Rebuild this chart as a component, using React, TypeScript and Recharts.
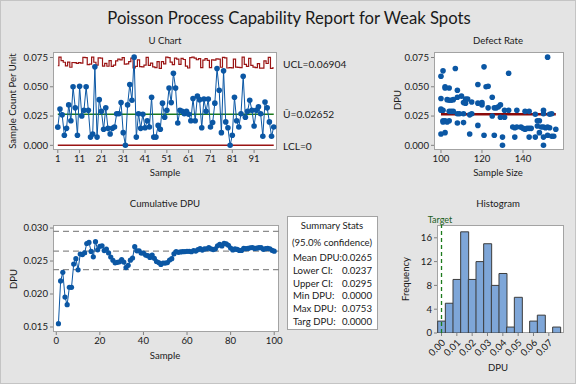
import React from 'react';
import {
  ComposedChart,
  Line,
  XAxis,
  YAxis,
  ReferenceLine,
  ScatterChart,
  Scatter,
  Bar,
} from 'recharts';

// ---------------- DATA ----------------
const dpuValues: number[] = [
  0.0155, 0.031, 0.026, 0.0086, 0.0145, 0.0345, 0.021, 0.05, 0.032, 0.0086,
  0.0505, 0.025, 0.03, 0.05, 0.03, 0.007, 0.0097, 0.067, 0.007, 0.039,
  0.029, 0.0137, 0.032, 0.0145, 0.0097, 0.0145, 0.0157, 0.027, 0.027, 0.0365,
  0.0108, 0.0, 0.0345, 0.052, 0.0385, 0.0753, 0.007, 0.027, 0.0145, 0.0265,
  0.015, 0.021, 0.0157, 0.041, 0.007, 0.007, 0.017, 0.0137, 0.036, 0.024,
  0.03, 0.049, 0.0365, 0.0616, 0.049, 0.019, 0.03, 0.029, 0.027, 0.029,
  0.0265, 0.021, 0.04, 0.021, 0.042, 0.039, 0.015, 0.0395, 0.029, 0.0395,
  0.0157, 0.0194, 0.036, 0.0656, 0.047, 0.0108, 0.0636, 0.02, 0.015, 0.0,
  0.0086, 0.041, 0.021, 0.0157, 0.027, 0.059, 0.024, 0.029, 0.0385, 0.03,
  0.0165, 0.03, 0.033, 0.027, 0.0077, 0.037, 0.032, 0.02, 0.0077, 0.0157,
];

const sampleSizes: number[] = [
  139, 100, 114, 121, 140, 120, 148, 122, 123, 126,
  123, 125, 101, 102, 133, 130, 100, 121, 136, 103,
  104, 141, 126, 142, 114, 143, 135, 115, 108, 111,
  102, 130, 129, 118, 104, 152, 143, 111, 144, 146,
  136, 101, 137, 125, 146, 150, 118, 156, 118, 129,
  100, 102, 120, 133, 104, 108, 131, 105, 109, 141,
  153, 102, 100, 104, 110, 106, 151, 112, 106, 113,
  150, 111, 112, 107, 108, 148, 101, 103, 153, 150,
  152, 108, 147, 149, 150, 100, 131, 143, 105, 137,
  147, 150, 128, 154, 154, 115, 127, 101, 155, 152,
];

const uBar = 0.02652;
const uclText = 'UCL=0.06904';
const uBarText = '\u016A=0.02652';
const lclText = 'LCL=0';

const uXTicks = [1, 11, 21, 31, 41, 51, 61, 71, 81, 91];
const uYTicks = [0, 0.025, 0.05, 0.075];
const sizeTicks = [100, 120, 140];
const cumXTicks = [0, 20, 40, 60, 80, 100];
const cumYTicks = [0.015, 0.02, 0.025, 0.03];
const ciLines = [0.0237, 0.0265, 0.0295];

const histMids = [0, 0.005, 0.01, 0.015, 0.02, 0.025, 0.03, 0.035, 0.04, 0.045, 0.05, 0.055, 0.06, 0.065, 0.07, 0.075];
const histCounts = [2, 5, 9, 17, 9, 12, 15, 8, 10, 1, 6, 0, 2, 3, 0, 1];
const histXTicks = [0, 0.01, 0.02, 0.03, 0.04, 0.05, 0.06, 0.07];
const histYTicks = [0, 4, 8, 12, 16];
const targetDpu = 0;

const statLabels = ['Mean DPU:', 'Lower CI:', 'Upper CI:', 'Min DPU:', 'Max DPU:', 'Targ DPU:'];
const statValues = ['0.0265', '0.0237', '0.0295', '0.0000', '0.0753', '0.0000'];

// ---------------- DERIVED ----------------
const uRows = dpuValues.map((u, i) => ({
  sample: i + 1,
  u,
  ucl: uBar + 3 * Math.sqrt(uBar / sampleSizes[i]),
}));
const scatterRows = dpuValues.map((u, i) => ({ n: sampleSizes[i], u }));
const minN = Math.min(...sampleSizes);
const maxN = Math.max(...sampleSizes);
let cd = 0;
let cn = 0;
const cumRows = dpuValues.map((u, i) => {
  cd += u * sampleSizes[i];
  cn += sampleSizes[i];
  return { sample: i + 1, cum: cd / cn };
});
const histRows = histMids.map((m, i) => ({ mid: m, count: histCounts[i] }));

// ---------------- STYLE ----------------
const FONT = 'Lato, "Noto Sans", sans-serif';
const BLUE = '#0b57a4';
const RED = '#9a1414';
const GREEN = '#1c7a1c';
const TXT = '#1a1a1a';
const FS = 9.6;
const M = { top: 6, right: 6, left: 0, bottom: 0 };

type Rect = { x1: number; y1: number; x2: number; y2: number };

const frame = (r: Rect): React.CSSProperties => ({
  position: 'absolute',
  left: r.x1,
  top: r.y1,
  width: r.x2 - r.x1,
  height: r.y2 - r.y1,
  background: '#fff',
  border: '1px solid #a3a3a3',
  boxSizing: 'border-box',
});

const box = (r: Rect, yw: number, xh: number) => ({
  left: r.x1 - yw,
  top: r.y1 - M.top,
  width: r.x2 - r.x1 + yw + M.right,
  height: r.y2 - r.y1 + M.top + xh,
});

const T = ({
  x,
  y,
  children,
  size = FS,
  anchor = 'middle',
  rotate = false,
  color = TXT,
}: {
  x: number;
  y: number;
  children: React.ReactNode;
  size?: number;
  anchor?: 'start' | 'middle' | 'end';
  rotate?: boolean;
  color?: string;
}) => {
  const tx = anchor === 'middle' ? '-50%' : anchor === 'end' ? '-100%' : '0';
  return (
    <div
      style={{
        position: 'absolute',
        left: x,
        top: y,
        transform: `translate(${tx}, -50%)${rotate ? ' rotate(-90deg)' : ''}`,
        fontSize: size,
        whiteSpace: 'nowrap',
        color,
        lineHeight: 1,
      }}
    >
      {children}
    </div>
  );
};

const tickStyle = { fontSize: FS, fill: TXT };
const tickLine = { stroke: '#808080' };

const RotTick = (props: any) => {
  const { x, y, payload } = props;
  const ax = x + 2;
  const ay = y + 3;
  return (
    <text x={ax} y={ay} transform={`rotate(-45 ${ax} ${ay})`} textAnchor="end" fontSize={FS} fill={TXT} dy="0.35em">
      {Number(payload.value).toFixed(2)}
    </text>
  );
};

const Dot = (props: any) => {
  const { cx, cy } = props;
  if (cx == null || cy == null) return null;
  return <circle cx={cx} cy={cy} r={2.8} fill={BLUE} />;
};

const uRect: Rect = { x1: 52, y1: 51, x2: 276, y2: 149 };
const sRect: Rect = { x1: 433, y1: 51, x2: 563, y2: 149 };
const cRect: Rect = { x1: 52, y1: 224, x2: 278, y2: 331 };
const hRect: Rect = { x1: 436, y1: 224, x2: 563, y2: 332 };

export default function App() {
  const ub = box(uRect, 52, 31);
  const sb = box(sRect, 40, 31);
  const cb = box(cRect, 52, 30);
  const hb = box(hRect, 30, 42);
  return (
    <div
      style={{
        position: 'fixed',
        left: 0,
        top: 0,
        width: 576,
        height: 384,
        background: '#e4e4e4',
        border: '1px solid #c4c4c4',
        boxSizing: 'border-box',
        fontFamily: FONT,
        color: TXT,
        overflow: 'hidden',
      }}
    >
      <T x={288} y={17} size={16.7}>Poisson Process Capability Report for Weak Spots</T>

      {/* U chart */}
      <T x={164} y={40}>U Chart</T>
      <div style={frame(uRect)} />
      <div style={{ position: 'absolute', left: ub.left, top: ub.top }}>
        <ComposedChart width={ub.width} height={ub.height} data={uRows} margin={M}>
          <XAxis dataKey="sample" type="number" domain={[-1.2, 101.5]} allowDataOverflow ticks={uXTicks} interval={0}
            height={31} tickSize={3} tickMargin={2} tick={tickStyle} tickLine={tickLine} axisLine={false} />
          <YAxis type="number" domain={[-0.004, 0.0797]} allowDataOverflow ticks={uYTicks} interval={0}
            tickFormatter={(v: number) => v.toFixed(3)} width={52} tickSize={3} tickMargin={2} tick={tickStyle} tickLine={tickLine} axisLine={false} />
          <ReferenceLine segment={[{ x: 1, y: uBar }, { x: 100, y: uBar }]} stroke={GREEN} strokeWidth={1.5} />
          <ReferenceLine segment={[{ x: 1, y: 0 }, { x: 100, y: 0 }]} stroke={RED} strokeWidth={1.5} />
          <Line dataKey="ucl" type="step" stroke={RED} strokeWidth={1.2} dot={false} isAnimationActive={false} />
          <Line dataKey="u" type="linear" stroke={BLUE} strokeWidth={1} dot={{ r: 2.8, fill: BLUE, stroke: BLUE, strokeWidth: 0 }} isAnimationActive={false} />
        </ComposedChart>
      </div>
      <T x={282} y={63} size={10.2} anchor="start">{uclText}</T>
      <T x={282} y={113} size={10.2} anchor="start">{uBarText}</T>
      <T x={282} y={145} size={10.2} anchor="start">{lclText}</T>
      <T x={12} y={100} rotate>Sample Count Per Unit</T>
      <T x={164} y={172}>Sample</T>

      {/* Defect rate */}
      <T x={497} y={40}>Defect Rate</T>
      <div style={frame(sRect)} />
      <div style={{ position: 'absolute', left: sb.left, top: sb.top }}>
        <ScatterChart width={sb.width} height={sb.height} margin={M}>
          <XAxis dataKey="n" type="number" domain={[96.6, 160]} allowDataOverflow ticks={sizeTicks} interval={0}
            height={31} tickSize={3} tickMargin={2} tick={tickStyle} tickLine={tickLine} axisLine={false} />
          <YAxis dataKey="u" type="number" domain={[-0.004, 0.0797]} allowDataOverflow ticks={uYTicks} interval={0}
            tickFormatter={(v: number) => v.toFixed(3)} width={40} tickSize={3} tickMargin={2} tick={tickStyle} tickLine={tickLine} axisLine={false} />
          <Scatter data={scatterRows} fill={BLUE} shape={<Dot />} isAnimationActive={false} />
          <ReferenceLine segment={[{ x: minN, y: uBar }, { x: maxN, y: uBar }]} stroke="#8a0a0a" strokeWidth={2.5} />
        </ScatterChart>
      </div>
      <T x={397} y={99} rotate>DPU</T>
      <T x={497} y={172}>Sample Size</T>

      {/* Cumulative */}
      <T x={164} y={203}>Cumulative DPU</T>
      <div style={frame(cRect)} />
      <div style={{ position: 'absolute', left: cb.left, top: cb.top }}>
        <ComposedChart width={cb.width} height={cb.height} data={cumRows} margin={M}>
          <XAxis dataKey="sample" type="number" domain={[-1.5, 102.2]} allowDataOverflow ticks={cumXTicks} interval={0}
            height={30} tickSize={3} tickMargin={2} tick={tickStyle} tickLine={tickLine} axisLine={false} />
          <YAxis type="number" domain={[0.01424, 0.03046]} allowDataOverflow ticks={cumYTicks} interval={0}
            tickFormatter={(v: number) => v.toFixed(3)} width={52} tickSize={3} tickMargin={2} tick={tickStyle} tickLine={tickLine} axisLine={false} />
          {ciLines.map((v) => (
            <ReferenceLine key={v} y={v} stroke="#8c8c8c" strokeDasharray="6 4" strokeWidth={1.2} />
          ))}
          <Line dataKey="cum" type="linear" stroke={BLUE} strokeWidth={1} dot={{ r: 2.6, fill: BLUE, stroke: BLUE, strokeWidth: 0 }} isAnimationActive={false} />
        </ComposedChart>
      </div>
      <T x={13} y={278} rotate>DPU</T>
      <T x={164} y={355}>Sample</T>

      {/* Summary stats */}
      <div style={{ position: 'absolute', left: 286, top: 215, width: 91, height: 114, background: '#fff', border: '1px solid #a3a3a3', boxSizing: 'border-box' }} />
      <T x={331} y={225}>Summary Stats</T>
      <T x={331} y={242}>(95.0% confidence)</T>
      {statLabels.map((l, i) => (
        <React.Fragment key={l}>
          <T x={292} y={257 + i * 12.8} anchor="start">{l}</T>
          <T x={371} y={257 + i * 12.8} anchor="end">{statValues[i]}</T>
        </React.Fragment>
      ))}

      {/* Histogram */}
      <T x={497} y={203}>Histogram</T>
      <div style={frame(hRect)} />
      <div style={{ position: 'absolute', left: hb.left, top: hb.top }}>
        <ComposedChart width={hb.width} height={hb.height} data={histRows} margin={M} barCategoryGap={0} barGap={0}>
          <XAxis dataKey="mid" type="number" domain={[-0.00294, 0.0799]} allowDataOverflow ticks={histXTicks} interval={0}
            height={42} tickSize={3} tick={<RotTick />} tickLine={tickLine} axisLine={false} />
          <YAxis type="number" domain={[0, 18.15]} allowDataOverflow ticks={histYTicks} interval={0}
            width={30} tickSize={3} tickMargin={2} tick={tickStyle} tickLine={tickLine} axisLine={false} />
          <Bar dataKey="count" fill="#7ea6d8" stroke="#3c3c3c" strokeWidth={1} isAnimationActive={false} />
          <ReferenceLine x={targetDpu} stroke={GREEN} strokeDasharray="4 3" strokeWidth={1.3} />
        </ComposedChart>
      </div>
      <T x={439} y={218} size={9} color="#1c5e1c">Target</T>
      <T x={405} y={278} rotate>Frequency</T>
      <T x={497} y={367}>DPU</T>
    </div>
  );
}
